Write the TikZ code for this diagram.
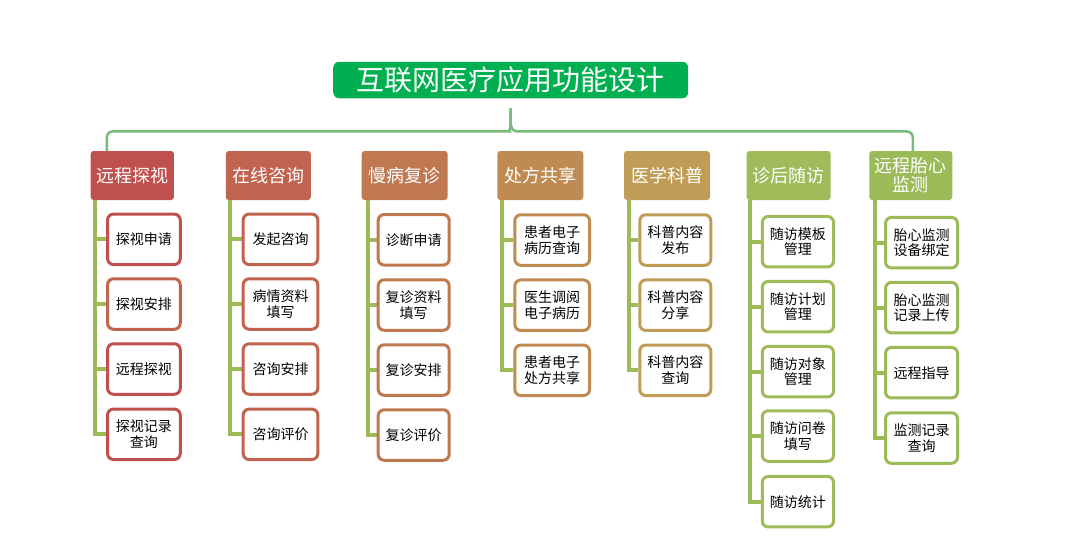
\documentclass[tikz,border=0pt]{standalone}
\usepackage{fontspec}
\newfontfamily\cjk{Noto Sans CJK SC}
\usetikzlibrary{backgrounds}
\definecolor{titlegreen}{RGB}{0,176,80}
\definecolor{bracegreen}{RGB}{122,186,122}
\definecolor{treegreen}{RGB}{155,187,89}
\definecolor{colA}{RGB}{192,80,77}
\definecolor{colB}{RGB}{192,100,79}
\definecolor{colC}{RGB}{192,120,81}
\definecolor{colD}{RGB}{192,139,83}
\definecolor{colE}{RGB}{191,157,86}
\definecolor{colF}{RGB}{159,187,90}
\definecolor{colG}{RGB}{155,187,89}
\begin{document}
\begin{tikzpicture}[x=1pt,y=-1pt,
  cat/.style={fill=#1, rounded corners=3pt, inner sep=0pt, minimum height=49pt,
    text=white, font=\cjk\fontsize{18}{19}\selectfont, align=center},
  kid/.style={draw=#1, line width=3pt, fill=white, rounded corners=6pt, inner sep=0pt,
    minimum height=50.5pt, font=\cjk\fontsize{14}{15.5}\selectfont, align=center},
  tree/.style={draw=treegreen, line width=4pt},
  brace/.style={draw=bracegreen, line width=2.5pt}]
\useasboundingbox (0,0) rectangle (1077,554);

% title
\node[fill=titlegreen, rounded corners=6pt, inner sep=0pt, minimum width=355pt,
  minimum height=36.5pt, text=white, font=\cjk\fontsize{28}{30}\selectfont]
  (title) at (510.7,80) {互联网医疗应用功能设计};

% categories
\node[cat=colA, minimum width=83.3pt] (c1) at (132.3,175.5) {远程探视};
\node[cat=colB, minimum width=85pt]   (c2) at (268.3,175.5) {在线咨询};
\node[cat=colC, minimum width=86pt]   (c3) at (404.7,175.5) {慢病复诊};
\node[cat=colD, minimum width=86pt]   (c4) at (540.3,175.5) {处方共享};
\node[cat=colE, minimum width=86pt]   (c5) at (667,175.5) {医学科普};
\node[cat=colF, minimum width=84pt]   (c6) at (788.7,175.5) {诊后随访};
\node[cat=colG, minimum width=83pt]   (c7) at (910.8,175.5) {远程胎心\\监测};

% column 1
\node[kid=colA, minimum width=72.7pt] (k11) at (143.9,239.3) {探视申请};
\node[kid=colB, minimum width=72.7pt] (k12) at (143.9,304) {探视安排};
\node[kid=colA, minimum width=72.7pt] (k13) at (143.9,369) {远程探视};
\node[kid=colA, minimum width=72.7pt] (k14) at (143.9,434.3) {探视记录\\查询};
% column 2
\node[kid=colB, minimum width=74.6pt] (k21) at (280.5,239.3) {发起咨询};
\node[kid=colB, minimum width=74.6pt] (k22) at (280.5,304) {病情资料\\填写};
\node[kid=colB, minimum width=74.6pt] (k23) at (280.5,369) {咨询安排};
\node[kid=colB, minimum width=74.6pt] (k24) at (280.5,434.3) {咨询评价};
% column 3
\node[kid=colC, minimum width=71pt] (k31) at (413.7,239.8) {诊断申请};
\node[kid=colC, minimum width=71pt] (k32) at (413.7,305) {复诊资料\\填写};
\node[kid=colC, minimum width=71pt] (k33) at (413.7,370) {复诊安排};
\node[kid=colC, minimum width=71pt] (k34) at (413.7,435) {复诊评价};
% column 4
\node[kid=colD, minimum width=74.7pt] (k41) at (552.2,240) {患者电子\\病历查询};
\node[kid=colD, minimum width=74.7pt] (k42) at (552.2,305.2) {医生调阅\\电子病历};
\node[kid=colD, minimum width=74.7pt] (k43) at (552.2,370.3) {患者电子\\处方共享};
% column 5
\node[kid=colE, minimum width=71pt] (k51) at (675.3,240) {科普内容\\发布};
\node[kid=colE, minimum width=71pt] (k52) at (675.3,305.2) {科普内容\\分享};
\node[kid=colE, minimum width=71pt] (k53) at (675.3,370.3) {科普内容\\查询};
% column 6
\node[kid=colF, minimum width=71.3pt] (k61) at (797.9,241.7) {随访模板\\管理};
\node[kid=colF, minimum width=71.3pt] (k62) at (797.9,306.7) {随访计划\\管理};
\node[kid=colF, minimum width=71.3pt] (k63) at (797.9,371.7) {随访对象\\管理};
\node[kid=colF, minimum width=71.3pt] (k64) at (797.9,436) {随访问卷\\填写};
\node[kid=colF, minimum width=71.3pt] (k65) at (797.9,501.7) {随访统计};
% column 7
\node[kid=colG, minimum width=72pt] (k71) at (921.5,242.7) {胎心监测\\设备绑定};
\node[kid=colG, minimum width=72pt] (k72) at (921.5,307.7) {胎心监测\\记录上传};
\node[kid=colG, minimum width=72pt] (k73) at (921.5,372.7) {远程指导};
\node[kid=colG, minimum width=72pt] (k74) at (921.5,438) {监测记录\\查询};

\coordinate (peak) at ([yshift=-10pt]title.south);

\begin{pgfonlayer}{background}
  \fill[white] (0,0) rectangle (1077,554);
  \foreach \c/\s/\n in {1/4.3/4, 2/4/4, 3/6.6/4, 4/4.4/3, 5/5.5/3, 6/3.3/5, 7/5.7/4} {
    \foreach \r in {1,...,\n} {
      \draw[tree] ([xshift=\s pt]c\c.south west) |- (k\c\r.west);
    }
  }
\end{pgfonlayer}

% brace
\draw[brace] ([xshift=16.3pt]c1.north west) [rounded corners=6pt]
  |- ([xshift=-7pt,yshift=-23pt]peak) [sharp corners]
  .. controls ([xshift=-2pt,yshift=-23pt]peak) and ([yshift=-20pt]peak) ..
  ([yshift=-13pt]peak) -- (peak);
\draw[brace] (peak) -- ([yshift=-13pt]peak)
  .. controls ([yshift=-20pt]peak) and ([xshift=2pt,yshift=-23pt]peak) ..
  ([xshift=7pt,yshift=-23pt]peak) [rounded corners=6pt] -| ([xshift=2pt]c7.north);
\end{tikzpicture}
\end{document}
